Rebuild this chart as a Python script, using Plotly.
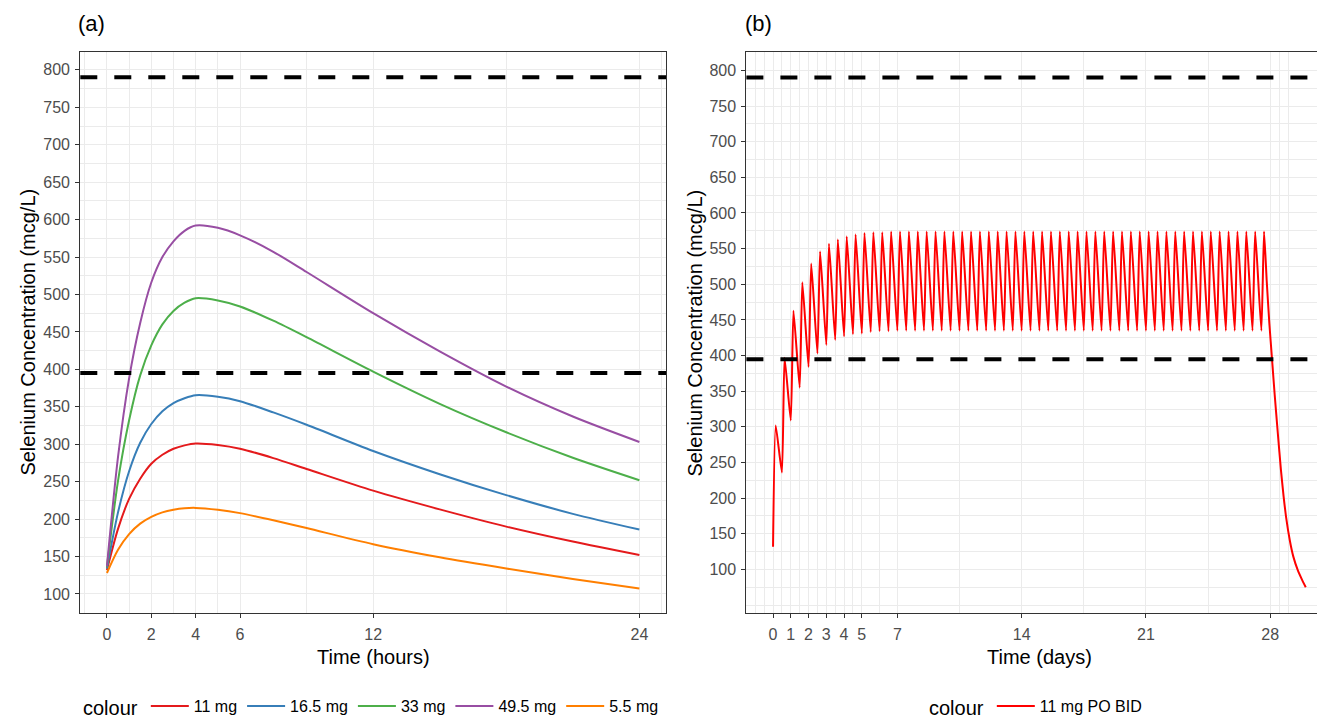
import plotly.graph_objects as go

# ---- panel (a): single dose, concentration vs hours ----
hours = [0, 0.5, 1, 1.5, 2, 2.5, 3, 3.5, 4, 5, 6, 7.5, 9, 12, 15, 18, 21, 24]
conc_11 = [132, 187, 227, 254, 274, 286, 294, 298.5, 301, 299, 294, 281.5, 267, 238, 213, 190, 170, 152]
conc_16_5 = [134, 209, 264, 302, 327, 344, 355, 361.5, 365.5, 363.5, 357.5, 342.5, 326, 291, 260, 232, 207, 186]
conc_33 = [136, 251, 332, 392, 432, 460, 478, 489, 495, 492, 484, 465, 443, 397, 354, 316, 282, 252]
conc_49_5 = [137, 283, 388, 462, 516, 550, 571, 585, 592, 589, 579, 557, 530, 475, 424, 377, 337, 303]
conc_5_5 = [128, 159, 180, 194, 203, 209, 212.5, 214.5, 215, 212.5, 208, 198.5, 188, 166.5, 149, 134, 120, 107.3]

series_a = [
    ("11 mg", conc_11, "#E41A1C"),
    ("16.5 mg", conc_16_5, "#377EB8"),
    ("33 mg", conc_33, "#4DAF4A"),
    ("49.5 mg", conc_49_5, "#984EA3"),
    ("5.5 mg", conc_5_5, "#FF7F00"),
]

# ---- panel (b): 11 mg PO BID over 28 days ----
start_conc = 132
dose_day = [0, 0.5, 1, 1.5, 2, 2.5, 3, 3.5, 4, 4.5, 5, 5.5, 6, 6.5, 7, 7.5,
            8, 8.5, 9, 9.5, 10, 10.5, 11, 11.5, 12, 12.5, 13, 13.5, 14, 14.5,
            15, 15.5, 16, 16.5, 17, 17.5, 18, 18.5, 19, 19.5, 20, 20.5, 21, 21.5,
            22, 22.5, 23, 23.5, 24, 24.5, 25, 25.5, 26, 26.5, 27, 27.5]
tmax_day = 0.15
peak_conc = [302, 397, 463, 503, 529, 546, 557, 563, 567, 570, 572, 573, 573] + [574] * 43
trough_conc = [236, 309, 355, 384, 403, 415, 422, 427, 430, 431, 433, 434, 434] + [435] * 42
tail_day = [27.8, 27.95, 28.1, 28.25, 28.43, 28.6, 28.75, 28.9, 29.1, 29.3, 29.55, 29.8, 30.0]
tail_conc = [505, 445, 395, 345, 290, 240, 203, 172, 141, 118, 99, 85, 75]

thresholds = [395, 790]

days_b = [0]
conc_b = [start_conc]
for i, d in enumerate(dose_day):
    days_b.append(d + tmax_day)
    conc_b.append(peak_conc[i])
    if i < len(trough_conc):
        days_b.append(dose_day[i + 1])
        conc_b.append(trough_conc[i])
days_b += tail_day
conc_b += tail_conc

W, H = 1325, 717
GRID = "#EBEBEB"
DARK = "#333333"
TICKTXT = "#4D4D4D"
FONT = "Liberation Sans, Arial, sans-serif"

fig = go.Figure()

for name, vals, col in series_a:
    fig.add_trace(go.Scatter(
        x=hours, y=vals, mode="lines", name=name,
        line=dict(color=col, width=2, shape="spline", smoothing=0.8),
        xaxis="x", yaxis="y", legend="legend",
    ))

fig.add_trace(go.Scatter(
    x=days_b, y=conc_b, mode="lines", name="11 mg PO BID",
    line=dict(color="#FF0000", width=2, shape="spline", smoothing=0.5),
    xaxis="x2", yaxis="y2", legend="legend2",
))

for h in thresholds:
    for xr, yr in (("x domain", "y"), ("x2 domain", "y2")):
        fig.add_shape(type="line", xref=xr, yref=yr, x0=0, x1=1, y0=h, y1=h,
                      line=dict(color="black", width=4, dash="17px,17px"))


def px_x(p):
    return p / W


def px_y(p):
    return 1 - p / H


axis_common = dict(
    showgrid=True, gridcolor=GRID, gridwidth=1.3,
    showline=True, mirror=True, linecolor=DARK, linewidth=1.2,
    ticks="outside", ticklen=4, tickwidth=1.1, tickcolor=DARK,
    tickfont=dict(size=16, color=TICKTXT, family=FONT),
    zeroline=False,
)

y_major = list(range(100, 801, 50))
y_minor_a = [75] + list(range(125, 800, 50))
y_minor_b = [50, 75] + list(range(125, 800, 50)) + [825]

fig.update_layout(
    width=W, height=H,
    margin=dict(l=0, r=0, t=0, b=0),
    paper_bgcolor="white", plot_bgcolor="white",
    font=dict(family=FONT, color="black"),
    xaxis=dict(domain=[px_x(72.3), px_x(658)], range=[-1.2, 25.2],
               tickvals=[0, 2, 4, 6, 12, 24], anchor="y", ticklabelstandoff=2,
               minor=dict(tickvals=[-1, 1, 3, 5, 9, 18, 25], showgrid=True,
                          gridcolor=GRID, gridwidth=0.7, ticks=""),
               **axis_common),
    yaxis=dict(domain=[px_y(607), px_y(44)], range=[74.2, 824],
               tickvals=y_major, anchor="x", ticklabelstandoff=2,
               minor=dict(tickvals=y_minor_a, showgrid=True,
                          gridcolor=GRID, gridwidth=0.7, ticks=""),
               **axis_common),
    xaxis2=dict(domain=[px_x(738.4), px_x(1324.4)], range=[-1.5, 31.5],
                tickvals=[0, 1, 2, 3, 4, 5, 7, 14, 21, 28], anchor="y2", ticklabelstandoff=2,
                minor=dict(tickvals=[-1, -0.5, 0.5, 1.5, 2.5, 3.5, 4.5, 6,
                                     10.5, 17.5, 24.5, 28.5, 29],
                           showgrid=True, gridcolor=GRID, gridwidth=0.7, ticks=""),
                **axis_common),
    yaxis2=dict(domain=[px_y(607), px_y(44)], range=[38.5, 826],
                tickvals=y_major, anchor="x2", ticklabelstandoff=2,
                minor=dict(tickvals=y_minor_b, showgrid=True,
                           gridcolor=GRID, gridwidth=0.7, ticks=""),
                **axis_common),
    legend=dict(orientation="h", x=px_x(73), y=px_y(701), xanchor="left", yanchor="middle",
                title=dict(text="colour", font=dict(size=20, color="black")),
                font=dict(size=16, color="black"), itemwidth=38,
                bgcolor="rgba(0,0,0,0)"),
    legend2=dict(orientation="h", x=px_x(919), y=px_y(701), xanchor="left", yanchor="middle",
                 title=dict(text="colour", font=dict(size=20, color="black")),
                 font=dict(size=16, color="black"), itemwidth=38,
                 bgcolor="rgba(0,0,0,0)"),
)

annotations = [
    ("(a)", 68, 16, 0, "left", 22),
    ("(b)", 735, 16, 0, "left", 22),
    ("Time (hours)", 365, 651, 0, "center", 20),
    ("Time (days)", 1031.4, 651, 0, "center", 20),
    ("Selenium Concentration (mcg/L)", 20, 325.5, -90, "center", 20),
    ("Selenium Concentration (mcg/L)", 687, 325.5, -90, "center", 20),
]
for text, ax, ay, ang, anchor, size in annotations:
    fig.add_annotation(text=text, x=px_x(ax), y=px_y(ay), xref="paper", yref="paper",
                       showarrow=False, textangle=ang, xanchor=anchor, yanchor="middle",
                       font=dict(family=FONT, color="black", size=size))

fig.write_html("out.html")
